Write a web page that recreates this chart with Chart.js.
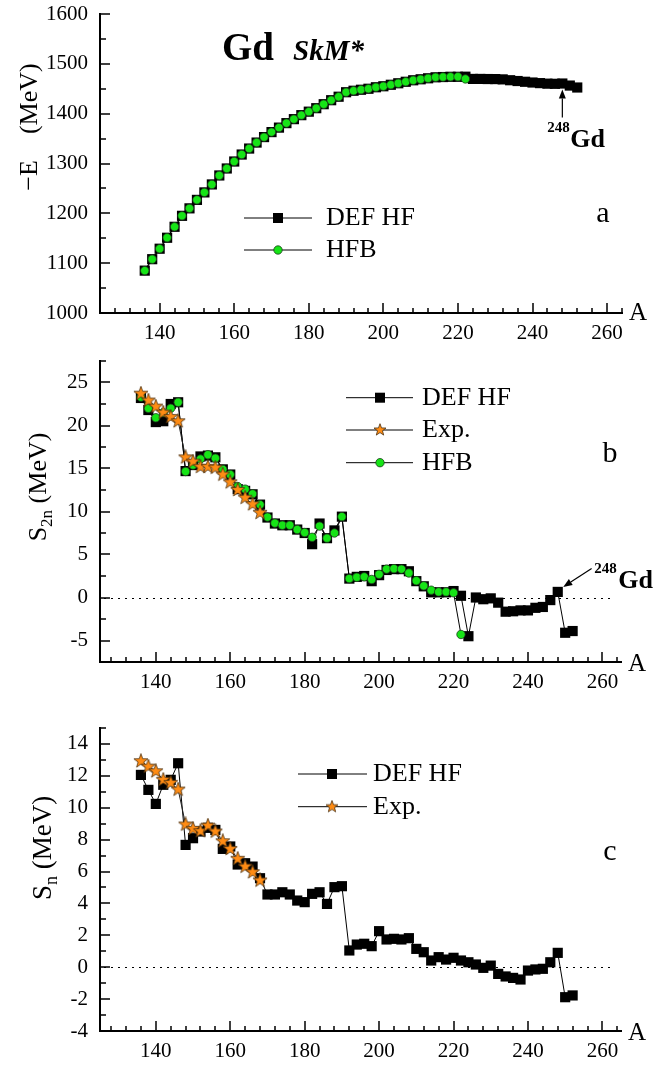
<!DOCTYPE html>
<html><head><meta charset="utf-8">
<script src="https://cdn.jsdelivr.net/npm/chart.js@4.4.1/dist/chart.umd.min.js"></script>
<style>
html,body{margin:0;padding:0;background:#fff;overflow:hidden}
#wrap{position:relative;width:653px;height:1069px;background:#fff}
#wrap canvas{position:absolute;left:0}
</style></head><body>
<div id="wrap">
<canvas id="cA" width="653" height="345" style="top:0;width:653px;height:345px"></canvas>
<canvas id="cB" width="653" height="360" style="top:345px;width:653px;height:360px"></canvas>
<canvas id="cC" width="653" height="364" style="top:705px;width:653px;height:364px"></canvas>
</div>
<script>
// ---------- data ----------
const massDef = [136,138,140,142,144,146,148,150,152,154,156,158,160,162,164,166,168,170,172,174,176,178,180,182,184,186,188,190,192,194,196,198,200,202,204,206,208,210,212,214,216,218,220,222,224,226,228,230,232,234,236,238,240,242,244,246,248,250,252];
const massHfb = [136,138,140,142,144,146,148,150,152,154,156,158,160,162,164,166,168,170,172,174,176,178,180,182,184,186,188,190,192,194,196,198,200,202,204,206,208,210,212,214,216,218,220,222];
const massExp = [136,138,140,142,144,146,148,150,152,154,156,158,160,162,164,166,168];

// panel a : -E (MeV)
const energyDef = [1085,1108,1129,1151,1173,1195,1210,1227,1242,1258,1276,1290,1304,1318,1330,1342,1353,1363,1372,1381,1389,1397,1404,1411,1419,1427,1434,1443,1446,1448,1450,1453,1455,1458,1461,1464,1467,1469,1471,1473,1473.5,1474,1474,1474.2,1469.7,1469.7,1469.5,1469.4,1468.8,1467.1,1465.5,1464,1462.5,1461.3,1460.2,1459.9,1460.5,1456.4,1452.5];
const energyHfb = [1085,1108,1129,1151,1173,1195,1210,1227,1242,1258,1276,1290,1304,1318,1330,1342,1353,1363,1372,1381,1389,1397,1404,1411,1419,1427,1434,1443,1446,1448,1450,1453,1455,1458,1461,1464,1467,1469,1471,1473,1473.5,1474,1474,1469.7];

// panel b : S2n (MeV)
const s2nDef = [23.2,21.8,20.4,20.5,22.5,22.7,14.7,15.4,16.4,16.5,16.3,14.9,14.3,12.6,12.4,12.0,10.8,9.3,8.6,8.4,8.4,7.9,7.5,6.2,8.6,6.9,7.8,9.4,2.2,2.4,2.5,1.9,2.6,3.2,3.3,3.3,3.05,1.9,1.3,0.6,0.6,0.6,0.75,0.2,-4.5,0.0,-0.2,-0.1,-0.6,-1.65,-1.6,-1.5,-1.5,-1.2,-1.1,-0.3,0.65,-4.1,-3.9];
const s2nHfb = [23.3,22.0,20.9,21.5,22.0,22.7,14.65,15.4,16.1,16.6,16.2,14.9,14.3,12.9,12.6,12.05,10.8,9.35,8.65,8.4,8.4,7.9,7.55,7.0,8.3,6.9,7.5,9.4,2.2,2.35,2.4,2.1,2.7,3.3,3.35,3.3,2.85,1.95,1.35,0.85,0.65,0.65,0.55,-4.3];
const s2nExp = [23.7,22.9,22.2,21.5,21.0,20.5,16.3,15.8,15.2,15.2,15.1,14.3,13.4,12.5,11.6,10.85,9.85];

// panel c : Sn (MeV)
const snDef = [12.06,11.12,10.24,11.44,11.75,12.79,7.67,8.09,8.51,8.74,8.61,7.42,7.57,6.44,6.52,6.31,5.58,4.56,4.56,4.70,4.56,4.18,4.08,4.6,4.70,3.97,5.02,5.08,1.05,1.42,1.47,1.32,2.26,1.74,1.78,1.74,1.82,1.15,0.94,0.42,0.63,0.48,0.59,0.42,0.31,0.17,-0.04,0.1,-0.42,-0.58,-0.67,-0.77,-0.21,-0.14,-0.1,0.31,0.9,-1.88,-1.77];
const snExp = [12.92,12.58,12.29,11.75,11.56,11.14,8.95,8.68,8.53,8.88,8.51,7.9,7.42,6.8,6.31,5.96,5.44];

// tick labels
const xMajor = [140,160,180,200,220,240,260];
const yMajorA = [1000,1100,1200,1300,1400,1500,1600];
const yMajorB = [-5,0,5,10,15,20,25];
const yMajorC = [-4,-2,0,2,4,6,8,10,12,14];

// ---------- styling helpers ----------
const FONT = '"Liberation Serif", "Times New Roman", serif';
const GREEN = '#16e416';
const ORANGE = '#ff8c14';

function makeStar(size, r1, r2) {
  const c = document.createElement('canvas');
  c.width = size; c.height = size;
  const g = c.getContext('2d');
  g.beginPath();
  for (let i = 0; i < 10; i++) {
    const r = i % 2 ? r2 : r1;
    const a = -Math.PI / 2 + i * Math.PI / 5;
    g.lineTo(size / 2 + r * Math.cos(a), size / 2 + r * Math.sin(a));
  }
  g.closePath();
  g.fillStyle = ORANGE; g.fill();
  g.strokeStyle = '#4a3010'; g.lineWidth = 0.8; g.stroke();
  return c;
}
const starImg = makeStar(16, 7.4, 3.0);
const starLegend = makeStar(14, 6.3, 2.6);

function range(a, b, step) { const out = []; for (let v = a; v <= b + 1e-9; v += step) out.push(Math.round(v * 100) / 100); return out; }

function pts(xs, ys) { return xs.map((x, i) => ({ x: x, y: ys[i] })); }

function dsDef(data) {
  return { label: 'DEF HF', data, borderColor: '#000', borderWidth: 1, pointStyle: 'rect', pointRadius: 7.2,
    pointBackgroundColor: '#000', pointBorderColor: '#000', pointBorderWidth: 0, tension: 0, fill: false, order: 2 };
}
function dsHfb(data) {
  return { label: 'HFB', data, borderColor: '#000', borderWidth: 1, pointStyle: 'circle', pointRadius: 4.2,
    pointBackgroundColor: GREEN, pointBorderColor: '#1d3d1d', pointBorderWidth: 0.8, tension: 0, fill: false, order: 1 };
}
function dsExp(data) {
  return { label: 'Exp.', data, borderColor: '#222', borderWidth: 1, pointStyle: starImg, pointRadius: 6,
    tension: 0, fill: false, order: 0 };
}

function text(ctx, s, x, y, font, align, base) {
  ctx.save(); ctx.fillStyle = '#000'; ctx.font = font;
  ctx.textAlign = align || 'left'; ctx.textBaseline = base || 'alphabetic';
  ctx.fillText(s, x, y); ctx.restore();
}
function vtitle(ctx, parts, cx, cy) {
  ctx.save(); ctx.translate(cx, cy); ctx.rotate(-Math.PI / 2);
  ctx.fillStyle = '#000'; ctx.textAlign = 'left'; ctx.textBaseline = 'alphabetic';
  let total = 0;
  parts.forEach(p => { ctx.font = p.size + 'px ' + FONT; p.w = ctx.measureText(p.t).width; total += p.w; });
  let x = -total / 2;
  parts.forEach(p => { ctx.font = p.size + 'px ' + FONT; ctx.fillText(p.t, x, p.dy); x += p.w; });
  ctx.restore();
}
function marker(ctx, kind, x, y) {
  ctx.save();
  if (kind === 'sq') { ctx.fillStyle = '#000'; ctx.fillRect(x - 5, y - 5, 10, 10); }
  else if (kind === 'ci') {
    ctx.beginPath(); ctx.arc(x, y, 4.2, 0, Math.PI * 2); ctx.fillStyle = GREEN; ctx.fill();
    ctx.lineWidth = 0.8; ctx.strokeStyle = '#1d3d1d'; ctx.stroke();
  } else if (kind === 'st') { ctx.drawImage(starLegend, x - starLegend.width / 2, y - starLegend.height / 2); }
  ctx.restore();
}
function legend(ctx, rows, x1, x2, mx, tx, size) {
  rows.forEach(r => {
    ctx.save(); ctx.beginPath(); ctx.moveTo(x1, r.y); ctx.lineTo(x2, r.y);
    ctx.strokeStyle = '#000'; ctx.lineWidth = 1; ctx.stroke(); ctx.restore();
    marker(ctx, r.kind, mx, r.y);
    text(ctx, r.label, tx, r.y, size + 'px ' + FONT, 'left', 'middle');
  });
}
function arrow(ctx, x1, y1, x2, y2) {
  const ang = Math.atan2(y2 - y1, x2 - x1), hl = 9, hw = 3.5;
  const bx = x2 - hl * Math.cos(ang), by = y2 - hl * Math.sin(ang);
  ctx.save(); ctx.strokeStyle = '#000'; ctx.fillStyle = '#000'; ctx.lineWidth = 1.2;
  ctx.beginPath(); ctx.moveTo(x1, y1); ctx.lineTo(bx, by); ctx.stroke();
  ctx.beginPath(); ctx.moveTo(x2, y2);
  ctx.lineTo(bx + hw * Math.sin(ang), by - hw * Math.cos(ang));
  ctx.lineTo(bx - hw * Math.sin(ang), by + hw * Math.cos(ang));
  ctx.closePath(); ctx.fill(); ctx.restore();
}
function inwardTicks(chart) {
  const { ctx, chartArea: ca, scales: { x: xs, y: ys } } = chart;
  ctx.save(); ctx.strokeStyle = '#000'; ctx.lineWidth = 1.5; ctx.beginPath();
  xs.ticks.forEach(t => {
    const px = Math.round(xs.getPixelForValue(t.value));
    if (px < ca.left + 2) return;
    const len = t.label ? 10 : 5;
    ctx.moveTo(px, ca.bottom); ctx.lineTo(px, ca.bottom - len);
  });
  ys.ticks.forEach(t => {
    const py = Math.round(ys.getPixelForValue(t.value));
    if (py > ca.bottom - 2) return;
    const len = t.label ? 10 : 6;
    ctx.moveTo(ca.left, py); ctx.lineTo(ca.left + len, py);
  });
  ctx.stroke(); ctx.restore();
}
function zeroLine(chart, xEnd) {
  const { ctx, chartArea: ca, scales: { x: xs, y: ys } } = chart;
  const py = Math.round(ys.getPixelForValue(0)) + 0.5;
  ctx.save(); ctx.strokeStyle = '#000'; ctx.lineWidth = 1; ctx.setLineDash([2, 5]);
  ctx.beginPath(); ctx.moveTo(ca.left + 4, py); ctx.lineTo(xs.getPixelForValue(xEnd), py); ctx.stroke();
  ctx.restore();
}

function buildChart(id, cfg) {
  return new Chart(document.getElementById(id), {
    type: 'line',
    data: { datasets: cfg.datasets },
    options: {
      responsive: false, animation: false, devicePixelRatio: 1,
      layout: { padding: { left: 0, right: cfg.padRight, top: cfg.padTop, bottom: 0 } },
      plugins: { legend: { display: false }, tooltip: { enabled: false } },
      scales: {
        x: {
          type: 'linear', min: cfg.xMin, max: cfg.xMax,
          afterBuildTicks: s => { s.ticks = cfg.xTicks.map(v => ({ value: v })); },
          afterFit: s => { s.height = cfg.xH; s.paddingLeft = 0; s.paddingRight = 0; },
          ticks: { autoSkip: false, maxRotation: 0, minRotation: 0, padding: cfg.xPad, color: '#000',
            font: { family: FONT, size: 21 }, callback: v => (xMajor.includes(v) ? String(v) : '') },
          grid: { display: true, drawOnChartArea: false, drawTicks: false, color: 'rgba(0,0,0,0)' },
          border: { display: true, color: '#000', width: 2 }
        },
        y: {
          type: 'linear', min: cfg.yMin, max: cfg.yMax,
          afterBuildTicks: s => { s.ticks = cfg.yTicks.map(v => ({ value: v })); },
          afterFit: s => { s.width = 100; s.paddingTop = 0; s.paddingBottom = 0; },
          ticks: { autoSkip: false, padding: 12, color: '#000',
            font: { family: FONT, size: 21 }, callback: v => (cfg.yMajor.includes(v) ? String(v) : '') },
          grid: { display: true, drawOnChartArea: false, drawTicks: false, color: 'rgba(0,0,0,0)' },
          border: { display: true, color: '#000', width: 2 }
        }
      }
    },
    plugins: [{ id: 'deco_' + id, afterDraw: cfg.deco }]
  });
}

// ---------- panel a ----------
buildChart('cA', {
  datasets: [dsHfb(pts(massHfb, energyHfb)), dsDef(pts(massDef, energyDef))],
  xMin: 124, xMax: 264, xTicks: range(124, 264, 4), xH: 32, xPad: 8, padTop: 14, padRight: 31,
  yMin: 1000, yMax: 1600, yTicks: range(1000, 1600, 50), yMajor: yMajorA,
  deco(chart) {
    const { ctx, scales: { x: xs, y: ys } } = chart;
    inwardTicks(chart);
    text(ctx, 'Gd', 222, 60, 'bold 39px ' + FONT);
    text(ctx, 'SkM*', 293, 60, 'italic bold 29px ' + FONT);
    text(ctx, 'a', 603, 222, '30px ' + FONT, 'center');
    text(ctx, 'A', 629, 320, '25px ' + FONT);
    vtitle(ctx, [{ t: '\u2212E    (MeV)', size: 26, dy: 9 }], 28, 127);
    legend(ctx, [{ y: 218, kind: 'sq', label: 'DEF HF' }, { y: 250, kind: 'ci', label: 'HFB' }], 244, 312, 278, 326, 26);
    const tx = xs.getPixelForValue(248), ty = ys.getPixelForValue(energyDef[massDef.indexOf(248)]) + 6;
    arrow(ctx, tx, ty + 28, tx, ty);
    text(ctx, '248', tx - 15, ty + 42, 'bold 15px ' + FONT);
    text(ctx, 'Gd', tx + 8, ty + 57, 'bold 26px ' + FONT);
  }
});

// ---------- panel b ----------
buildChart('cB', {
  datasets: [dsExp(pts(massExp, s2nExp)), dsHfb(pts(massHfb, s2nHfb)), dsDef(pts(massDef, s2nDef))],
  xMin: 125, xMax: 265, xTicks: range(128, 264, 4), xH: 43, xPad: 8, padTop: 16, padRight: 32,
  yMin: -7.5, yMax: 27.5, yTicks: range(-7.5, 27.5, 2.5), yMajor: yMajorB,
  deco(chart) {
    const { ctx, scales: { x: xs, y: ys } } = chart;
    inwardTicks(chart);
    zeroLine(chart, 263);
    text(ctx, 'b', 610, 117, '30px ' + FONT, 'center');
    text(ctx, 'A', 628, 326, '25px ' + FONT);
    vtitle(ctx, [{ t: 'S', size: 26, dy: 9 }, { t: '2n', size: 17, dy: 15 }, { t: ' (MeV)', size: 26, dy: 9 }], 37, 142);
    legend(ctx, [{ y: 52.7, kind: 'sq', label: 'DEF HF' }, { y: 85, kind: 'st', label: 'Exp.' }, { y: 117.7, kind: 'ci', label: 'HFB' }], 346, 413, 380, 422, 26);
    const tx = xs.getPixelForValue(248) + 5.5, ty = ys.getPixelForValue(s2nDef[massDef.indexOf(248)]) - 5;
    arrow(ctx, tx + 28.4, ty - 18.4, tx, ty);
    text(ctx, '248', tx + 31, ty - 14, 'bold 15px ' + FONT);
    text(ctx, 'Gd', tx + 55, ty + 1, 'bold 26px ' + FONT);
  }
});

// ---------- panel c ----------
buildChart('cC', {
  datasets: [dsExp(pts(massExp, snExp)), dsDef(pts(massDef, snDef))],
  xMin: 125, xMax: 265, xTicks: range(128, 264, 4), xH: 38, xPad: 8, padTop: 23, padRight: 32,
  yMin: -4, yMax: 15, yTicks: range(-4, 15, 1), yMajor: yMajorC,
  deco(chart) {
    const { ctx } = chart;
    inwardTicks(chart);
    zeroLine(chart, 263);
    text(ctx, 'c', 610, 155, '30px ' + FONT, 'center');
    text(ctx, 'A', 628, 335, '25px ' + FONT);
    vtitle(ctx, [{ t: 'S', size: 27, dy: 9 }, { t: 'n', size: 18, dy: 15 }, { t: ' (MeV)', size: 27, dy: 9 }], 42, 143);
    legend(ctx, [{ y: 69, kind: 'sq', label: 'DEF HF' }, { y: 101.7, kind: 'st', label: 'Exp.' }], 298, 367, 332, 373, 26);
  }
});
</script>
</body></html>
